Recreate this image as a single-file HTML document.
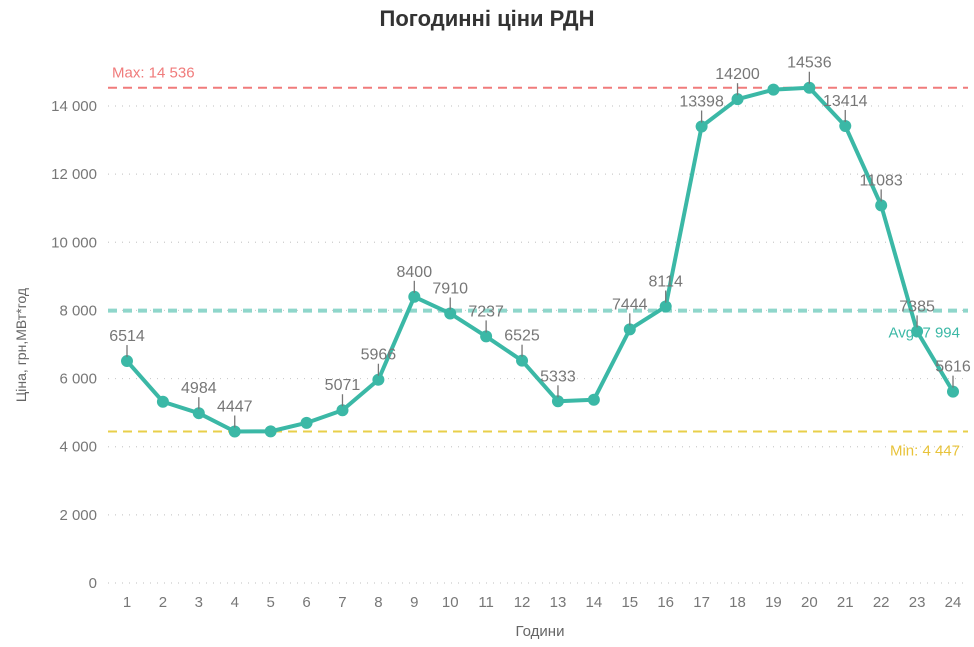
<!DOCTYPE html>
<html><head><meta charset="utf-8"><style>
body{margin:0;background:#fff;}
svg{display:block;font-family:"Liberation Sans",sans-serif;}
</style></head><body>
<svg id="chart" width="974" height="647">
<text x="487" y="26" text-anchor="middle" font-size="22" font-weight="bold" fill="#333">Погодинні ціни РДН</text>
<text x="540" y="636" text-anchor="middle" font-size="15" fill="#666">Години</text>
<text transform="translate(26,345) rotate(-90)" text-anchor="middle" font-size="14" fill="#666">Ціна, грн,МВт*год</text>
<g id="grid"></g><g id="refs"></g><g id="series"></g><g id="labels"></g>
</svg>
<script>
const hours=[1,2,3,4,5,6,7,8,9,10,11,12,13,14,15,16,17,18,19,20,21,22,23,24];
const prices=[6514,5320,4984,4447,4450,4700,5071,5966,8400,7910,7237,6525,5333,5380,7444,8114,13398,14200,14480,14536,13414,11083,7385,5616];
const showLabel=[1,0,1,1,0,0,1,1,1,1,1,1,1,0,1,1,1,1,0,1,1,1,1,1];
const yTicks=[0,2000,4000,6000,8000,10000,12000,14000];
const yTickLabels=["0","2 000","4 000","6 000","8 000","10 000","12 000","14 000"];
const maxVal=14536, avgVal=7994, minVal=4447;
const NS="http://www.w3.org/2000/svg";
const x=h=>127+(h-1)*(953-127)/23;
const y=v=>583-v*(583-106)/14000;
function mk(tag,attrs,parent,text){const e=document.createElementNS(NS,tag);for(const k in attrs)e.setAttribute(k,attrs[k]);if(text!=null)e.textContent=text;parent.appendChild(e);return e;}
const grid=document.getElementById('grid');
yTicks.forEach((t,i)=>{
  const l=mk('line',{x1:108,x2:968,y1:y(t),y2:y(t),stroke:'#ccc','stroke-dasharray':'1 6','stroke-width':1.2},grid);
  
  
  const tx=mk('text',{x:97,y:y(t)+5,'text-anchor':'end','font-size':15,fill:'#777'},grid,yTickLabels[i]);
  
  
});
hours.forEach(h=>{
  const tx=mk('text',{x:x(h),y:607,'text-anchor':'middle','font-size':15,fill:'#777'},grid,String(h));
  
  
});
const refs=document.getElementById('refs');
function fmt(v){return String(v).replace(/\B(?=(\d{3})+(?!\d))/g,' ');}
let r=mk('line',{x1:108,x2:968,y1:y(maxVal),y2:y(maxVal),stroke:'#f07b7b','stroke-width':2,'stroke-dasharray':'9 6'},refs);


r=mk('text',{x:112,y:y(maxVal)-10,'font-size':15,fill:'#f07b7b'},refs,'Max: '+fmt(maxVal));


r=mk('line',{x1:108,x2:968,y1:y(avgVal),y2:y(avgVal),stroke:'#8fd6cb','stroke-width':4,'stroke-dasharray':'9 6'},refs);


r=mk('text',{x:960,y:y(avgVal)+27,'text-anchor':'end','font-size':15,fill:'#3bb8a6'},refs,'Avg: '+fmt(avgVal));


r=mk('line',{x1:108,x2:968,y1:y(minVal),y2:y(minVal),stroke:'#e8cf4a','stroke-width':2,'stroke-dasharray':'9 6'},refs);


r=mk('text',{x:960,y:y(minVal)+24,'text-anchor':'end','font-size':15,fill:'#e8c33a'},refs,'Min: '+fmt(minVal));


const ser=document.getElementById('series');
const pl=mk('polyline',{points:hours.map((h,i)=>x(h)+','+y(prices[i])).join(' '),fill:'none',stroke:'#3bb8a6','stroke-width':4,'stroke-linejoin':'round'},ser);


const lab=document.getElementById('labels');
hours.forEach((h,i)=>{
  const c=mk('circle',{cx:x(h),cy:y(prices[i]),r:6,fill:'#3bb8a6'},ser);
  
  
  if(showLabel[i]){
    const ll=mk('line',{x1:x(h),x2:x(h),y1:y(prices[i])-4,y2:y(prices[i])-16,stroke:'#777','stroke-width':1.3},lab);
    
    
    const t=mk('text',{x:x(h),y:y(prices[i])-20,'text-anchor':'middle','font-size':16,fill:'#777'},lab,String(prices[i]));
    
    
  }
});
</script>
</body></html>
